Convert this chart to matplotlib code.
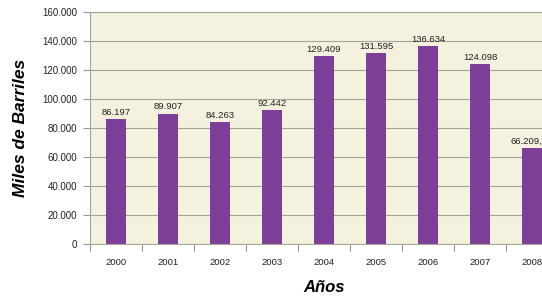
import matplotlib
matplotlib.use("Agg")
import matplotlib.pyplot as plt
import numpy as np
from matplotlib.ticker import FuncFormatter, FixedLocator

years = ["2000", "2001", "2002", "2003", "2004", "2005", "2006", "2007", "2008"]
values = [86197, 89907, 84263, 92442, 129409, 131595, 136634, 124098, 66209]
labels = ["86.197", "89.907", "84.263", "92.442", "129.409", "131.595", "136.634", "124.098", "66.209,"]
yticks = [0, 20000, 40000, 60000, 80000, 100000, 120000, 140000, 160000]

plt.rcParams['font.family'] = ['Liberation Sans', 'DejaVu Sans']

fig = plt.figure(figsize=(5.42, 2.99), dpi=100)
ax = fig.add_axes([90/542, (299-244)/299, (558-90)/542, (244-12)/299])
ax.set_facecolor('#F4F2DE')

x = np.arange(len(years))
ax.bar(x, values, width=0.4, color='#7D3F98', zorder=3)
for i, (xi, v, lab) in enumerate(zip(x, values, labels)):
    xo = xi - 0.1 if i == len(years) - 1 else xi
    ax.text(xo, v + 1500, lab, ha='center', va='bottom', fontsize=6.8, color='#222222', zorder=4)

ax.set_xlim(-0.5, len(years) - 0.5)
ax.set_ylim(0, 160000)
ax.set_yticks(yticks)
ax.yaxis.set_major_formatter(FuncFormatter(lambda v, p: f"{int(v):,}".replace(",", ".")))
ax.grid(axis='y', color='#A5A598', linewidth=0.8, zorder=1)

ax.set_xticks(x)
ax.set_xticklabels(years)
ax.xaxis.set_minor_locator(FixedLocator(np.arange(-0.5, len(years), 1.0)))
ax.tick_params(axis='x', which='major', length=0, pad=10, labelsize=6.8, labelcolor='#222222')
ax.tick_params(axis='x', which='minor', length=5, color='#999999', width=0.8)
ax.tick_params(axis='y', length=5, color='#999999', width=0.8, labelsize=7, labelcolor='#222222', pad=4)

for s in ['left', 'bottom', 'top', 'right']:
    ax.spines[s].set_color('#A5A598')
    ax.spines[s].set_linewidth(0.8)

fig.text(21/542, (299-128)/299, 'Miles de Barriles', ha='center', va='center', rotation=90,
         fontsize=12.5, fontweight='bold', fontstyle='italic')
fig.text(324/542, (299-288)/299, 'Años', ha='center', va='center', fontsize=12, fontweight='bold', fontstyle='italic')

fig.savefig('out.png', dpi=100)
